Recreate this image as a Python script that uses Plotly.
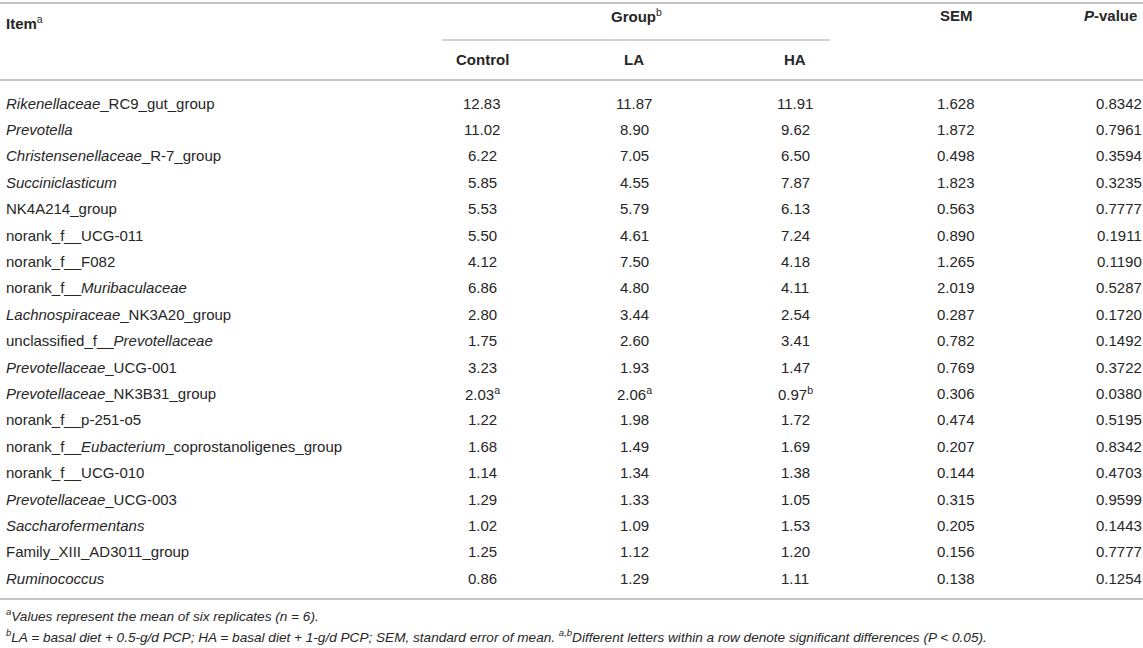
import plotly.graph_objects as go

# Table data
items = [
    "<i>Rikenellaceae</i>_RC9_gut_group",
    "<i>Prevotella</i>",
    "<i>Christensenellaceae</i>_R-7_group",
    "<i>Succiniclasticum</i>",
    "NK4A214_group",
    "norank_f__UCG-011",
    "norank_f__F082",
    "norank_f__<i>Muribaculaceae</i>",
    "<i>Lachnospiraceae</i>_NK3A20_group",
    "unclassified_f__<i>Prevotellaceae</i>",
    "<i>Prevotellaceae</i>_UCG-001",
    "<i>Prevotellaceae</i>_NK3B31_group",
    "norank_f__p-251-o5",
    "norank_f__<i>Eubacterium</i>_coprostanoligenes_group",
    "norank_f__UCG-010",
    "<i>Prevotellaceae</i>_UCG-003",
    "<i>Saccharofermentans</i>",
    "Family_XIII_AD3011_group",
    "<i>Ruminococcus</i>",
]
control = ["12.83", "11.02", "6.22", "5.85", "5.53", "5.50", "4.12", "6.86", "2.80", "1.75",
           "3.23", "2.03<sup>a</sup>", "1.22", "1.68", "1.14", "1.29", "1.02", "1.25", "0.86"]
la = ["11.87", "8.90", "7.05", "4.55", "5.79", "4.61", "7.50", "4.80", "3.44", "2.60",
      "1.93", "2.06<sup>a</sup>", "1.98", "1.49", "1.34", "1.33", "1.09", "1.12", "1.29"]
ha = ["11.91", "9.62", "6.50", "7.87", "6.13", "7.24", "4.18", "4.11", "2.54", "3.41",
      "1.47", "0.97<sup>b</sup>", "1.72", "1.69", "1.38", "1.05", "1.53", "1.20", "1.11"]
sem = ["1.628", "1.872", "0.498", "1.823", "0.563", "0.890", "1.265", "2.019", "0.287", "0.782",
       "0.769", "0.306", "0.474", "0.207", "0.144", "0.315", "0.205", "0.156", "0.138"]
pval = ["0.8342", "0.7961", "0.3594", "0.3235", "0.7777", "0.1911", "0.1190", "0.5287", "0.1720", "0.1492",
        "0.3722", "0.0380", "0.5195", "0.8342", "0.4703", "0.9599", "0.1443", "0.7777", "0.1254"]

sub_headers = ["Control", "LA", "HA"]
footnotes = [
    "<sup>a</sup>Values represent the mean of six replicates (n = 6).",
    "<sup>b</sup>LA = basal diet + 0.5-g/d PCP; HA = basal diet + 1-g/d PCP; SEM, standard error of mean. "
    "<sup>a,b</sup>Different letters within a row denote significant differences (P &lt; 0.05).",
]

W, H = 1143, 648
FONT = "Liberation Sans, Arial, Helvetica, sans-serif"
TXT = "#262626"
RULE = "#c4c4c4"

col_x = [482, 634, 795, 956, 1119]   # Control, LA, HA, SEM, P-value
row0, row_h = 103, 26.4

fig = go.Figure()
ann = []


def add(text, x, y, anchor="center", size=15, italic=False):
    ann.append(dict(text=f"<i>{text}</i>" if italic else text, x=x, y=y, xref="x", yref="y",
                    xanchor=anchor, yanchor="middle", showarrow=False,
                    font=dict(family=FONT, size=size, color=TXT)))


# header
add("<b>Item</b><sup>a</sup>", 4, 22, anchor="left")
add("<b>Group</b><sup>b</sup>", 636, 15)
add("<b>SEM</b>", col_x[3], 15)
add("<b><i>P</i>-value</b>", 1139, 15, anchor="right")
for name, x in zip(sub_headers, col_x[:3]):
    add(f"<b>{name}</b>", x, 59)

# body
for i, name in enumerate(items):
    y = row0 + i * row_h
    add(name, 4, y, anchor="left")
    for x, col in zip(col_x, [control, la, ha, sem, pval]):
        add(col[i], x, y)

# footnotes
add(footnotes[0], 4, 615, anchor="left", size=13.6, italic=True)
add(footnotes[1], 4, 636, anchor="left", size=13.6, italic=True)

shapes = [
    dict(type="line", x0=0, x1=W, y0=3, y1=3, line=dict(color=RULE, width=2)),
    dict(type="line", x0=442, x1=830, y0=40, y1=40, line=dict(color=RULE, width=1.5)),
    dict(type="line", x0=0, x1=W, y0=80, y1=80, line=dict(color=RULE, width=2)),
    dict(type="line", x0=0, x1=W, y0=599, y1=599, line=dict(color=RULE, width=2)),
]
for s in shapes:
    s.update(xref="x", yref="y")

fig.update_layout(
    width=W, height=H,
    margin=dict(l=0, r=0, t=0, b=0),
    paper_bgcolor="white", plot_bgcolor="white",
    xaxis=dict(range=[0, W], visible=False, fixedrange=True),
    yaxis=dict(range=[H, 0], visible=False, fixedrange=True),
    annotations=ann, shapes=shapes, showlegend=False,
)

# drop the default page margin so the figure fills the window exactly
fig.write_html("out.html", config={"displayModeBar": False},
               post_script="document.body.style.margin='0';document.body.style.overflow='hidden';")
